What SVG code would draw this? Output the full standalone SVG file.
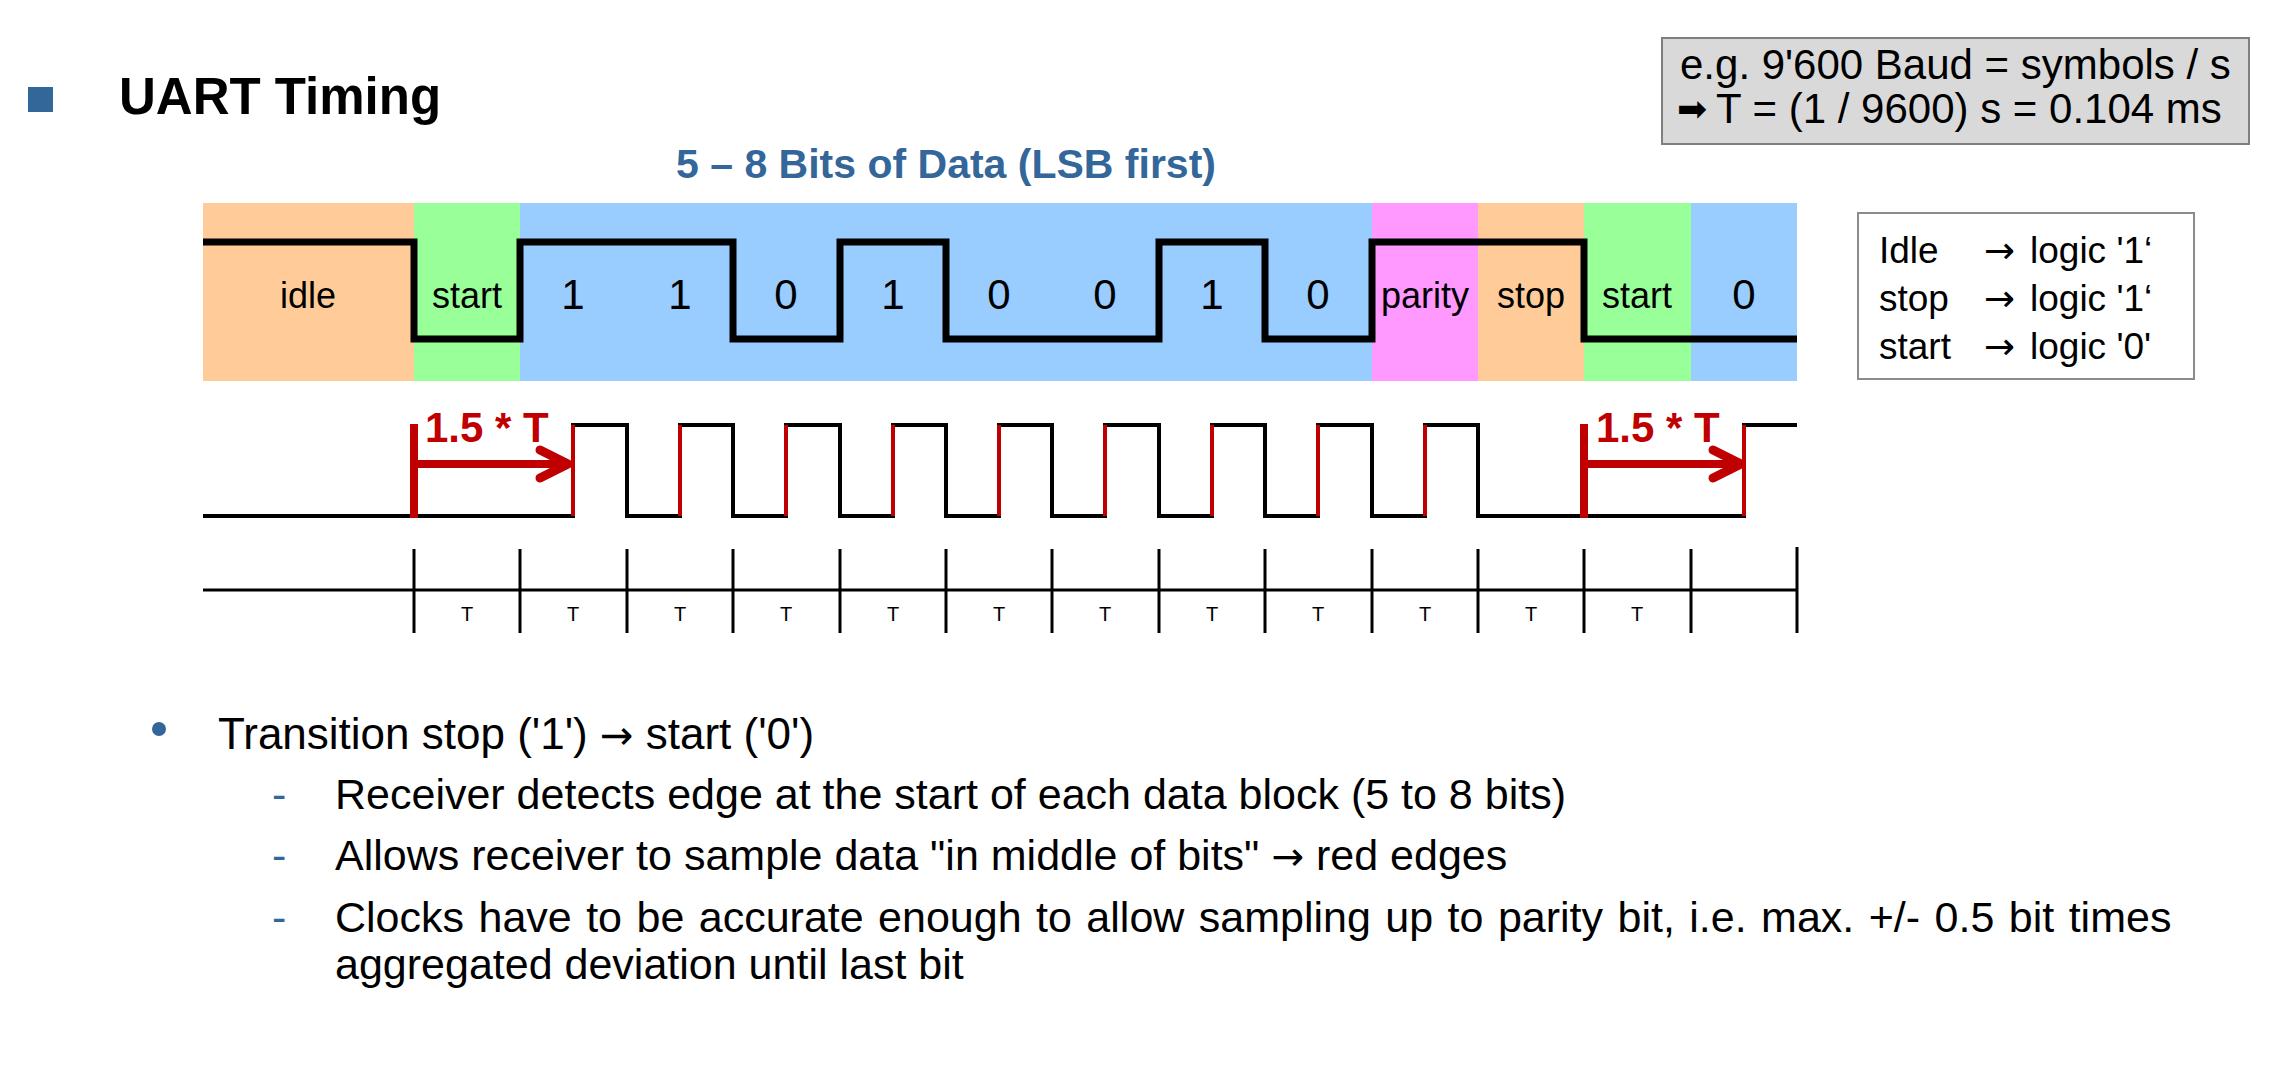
<svg xmlns="http://www.w3.org/2000/svg" width="2272" height="1068" viewBox="0 0 2272 1068">
<style>
text{font-family:"Liberation Sans",Arial,sans-serif;fill:#000}
.ar{font-family:"DejaVu Sans",sans-serif}
.lbl{font-size:36px;text-anchor:middle}
.dig{font-size:42px;text-anchor:middle}
.t{font-size:20px;text-anchor:middle}
.red{fill:#C00000;font-weight:bold;font-size:42px}
.blue{fill:#336699}
.sig{fill:none;stroke:#000;stroke-width:7;stroke-linejoin:miter}
.clk{fill:none;stroke:#000;stroke-width:4}
.rise{stroke:#C00000;stroke-width:4}
.tick{stroke:#000;stroke-width:3}
.rl{stroke:#C00000;stroke-width:8;fill:none}
.head{stroke:#C00000;stroke-width:9;fill:none;stroke-linecap:round;stroke-linejoin:round}
.body{font-size:43px}
.leg{font-size:37px}
</style>
<rect width="2272" height="1068" fill="#fff"/>
<g id="title">
<rect x="28" y="87" width="25" height="25" fill="#336699"/>
<text x="119" y="114" font-size="51" font-weight="bold">UART Timing</text>
</g>
<g id="databits-label">
<text x="946" y="178" font-size="41" font-weight="bold" text-anchor="middle" class="blue">5 – 8 Bits of Data (LSB first)</text>
</g>
<g id="baud-note">
<rect x="1662" y="38" width="587" height="106" fill="#D9D9D9" stroke="#7F7F7F" stroke-width="2"/>
<text x="1680" y="79" font-size="42">e.g. 9'600 Baud = symbols / s</text>
<text x="1677" y="121" class="ar" font-size="36">➡</text>
<text x="1716" y="123" font-size="42">T = (1 / 9600) s = 0.104 ms</text>
</g>
<g id="frame-bands">
<rect x="203" y="203" width="211" height="178" fill="#FFCC99"/>
<rect x="414" y="203" width="106" height="178" fill="#99FF99"/>
<rect x="520" y="203" width="852" height="178" fill="#99CCFF"/>
<rect x="1372" y="203" width="106" height="178" fill="#FF99FF"/>
<rect x="1478" y="203" width="106" height="178" fill="#FFCC99"/>
<rect x="1584" y="203" width="107" height="178" fill="#99FF99"/>
<rect x="1691" y="203" width="106" height="178" fill="#99CCFF"/>
</g>
<g id="frame-labels">
<text class="lbl" x="308" y="308">idle</text>
<text class="lbl" x="467" y="308">start</text>
<text class="dig" x="573" y="309">1</text>
<text class="dig" x="680" y="309">1</text>
<text class="dig" x="786" y="309">0</text>
<text class="dig" x="893" y="309">1</text>
<text class="dig" x="999" y="309">0</text>
<text class="dig" x="1105" y="309">0</text>
<text class="dig" x="1212" y="309">1</text>
<text class="dig" x="1318" y="309">0</text>
<text class="lbl" x="1425" y="308">parity</text>
<text class="lbl" x="1531" y="308">stop</text>
<text class="lbl" x="1637" y="308">start</text>
<text class="dig" x="1744" y="309">0</text>
</g>
<g id="connectors">
<path id="signal" class="sig" d="M203,242 H414 V339 H520 V242 H733 V339 H840 V242 H946 V339 H1159 V242 H1265 V339 H1372 V242 H1584 V339 H1797"/>
<path id="clock" class="clk" d="M203,516 H573 V425 H627 V516 H680 V425 H733 V516 H786 V425 H840 V516 H893 V425 H946 V516 H999 V425 H1052 V516 H1105 V425 H1159 V516 H1212 V425 H1265 V516 H1318 V425 H1372 V516 H1425 V425 H1478 V516 H1744 V425 H1797"/>
<g id="red-edges">
<line class="rise" x1="573" y1="516" x2="573" y2="425"/>
<line class="rise" x1="680" y1="516" x2="680" y2="425"/>
<line class="rise" x1="786" y1="516" x2="786" y2="425"/>
<line class="rise" x1="893" y1="516" x2="893" y2="425"/>
<line class="rise" x1="999" y1="516" x2="999" y2="425"/>
<line class="rise" x1="1105" y1="516" x2="1105" y2="425"/>
<line class="rise" x1="1212" y1="516" x2="1212" y2="425"/>
<line class="rise" x1="1318" y1="516" x2="1318" y2="425"/>
<line class="rise" x1="1425" y1="516" x2="1425" y2="425"/>
<line class="rise" x1="1744" y1="516" x2="1744" y2="425"/>
</g>
<g id="delay-arrow-1">
<line class="rl" x1="414" y1="424" x2="414" y2="518"/>
<line class="rl" x1="414" y1="464" x2="566" y2="464"/>
<polyline class="head" points="540,450 568,464 540,478"/>
</g>
<g id="delay-arrow-2">
<line class="rl" x1="1584" y1="424" x2="1584" y2="518"/>
<line class="rl" x1="1584" y1="464" x2="1738" y2="464"/>
<polyline class="head" points="1713,450 1741,464 1713,478"/>
</g>
</g>
<g id="delay-labels">
<text class="red" x="425" y="442">1.5 * T</text>
<text class="red" x="1596" y="442">1.5 * T</text>
</g>
<g id="timeline">
<line class="tick" x1="203" y1="590" x2="1797" y2="590"/>
<line class="tick" x1="414" y1="549" x2="414" y2="633"/>
<line class="tick" x1="520" y1="549" x2="520" y2="633"/>
<line class="tick" x1="627" y1="549" x2="627" y2="633"/>
<line class="tick" x1="733" y1="549" x2="733" y2="633"/>
<line class="tick" x1="840" y1="549" x2="840" y2="633"/>
<line class="tick" x1="946" y1="549" x2="946" y2="633"/>
<line class="tick" x1="1052" y1="549" x2="1052" y2="633"/>
<line class="tick" x1="1159" y1="549" x2="1159" y2="633"/>
<line class="tick" x1="1265" y1="549" x2="1265" y2="633"/>
<line class="tick" x1="1372" y1="549" x2="1372" y2="633"/>
<line class="tick" x1="1478" y1="549" x2="1478" y2="633"/>
<line class="tick" x1="1584" y1="549" x2="1584" y2="633"/>
<line class="tick" x1="1691" y1="549" x2="1691" y2="633"/>
<line class="tick" x1="1797" y1="547" x2="1797" y2="633"/>
<text class="t" x="467" y="621">T</text>
<text class="t" x="573" y="621">T</text>
<text class="t" x="680" y="621">T</text>
<text class="t" x="786" y="621">T</text>
<text class="t" x="893" y="621">T</text>
<text class="t" x="999" y="621">T</text>
<text class="t" x="1105" y="621">T</text>
<text class="t" x="1212" y="621">T</text>
<text class="t" x="1318" y="621">T</text>
<text class="t" x="1425" y="621">T</text>
<text class="t" x="1531" y="621">T</text>
<text class="t" x="1637" y="621">T</text>
</g>
<g id="legend">
<rect x="1858" y="213" width="336" height="166" fill="#fff" stroke="#8C8C8C" stroke-width="2"/>
<text class="leg" x="1879" y="263">Idle</text><text class="leg ar" x="1984" y="263" font-size="34">→</text><text class="leg" x="2030" y="263">logic '1‘</text>
<text class="leg" x="1879" y="311">stop</text><text class="leg ar" x="1984" y="311" font-size="34">→</text><text class="leg" x="2030" y="311">logic '1‘</text>
<text class="leg" x="1879" y="359">start</text><text class="leg ar" x="1984" y="359" font-size="34">→</text><text class="leg" x="2030" y="359">logic '0'</text>
</g>
<g id="notes">
<circle cx="159" cy="729" r="7" fill="#336699"/>
<text x="218" y="749" font-size="44">Transition stop ('1') <tspan class="ar" font-size="40">→</tspan> start ('0')</text>
<text x="272" y="809" class="body blue">-</text>
<text x="335" y="809" class="body">Receiver detects edge at the start of each data block (5 to 8 bits)</text>
<text x="272" y="870" class="body blue">-</text>
<text x="335" y="870" class="body">Allows receiver to sample data "in middle of bits" <tspan class="ar" font-size="39">→</tspan> red edges</text>
<text x="272" y="932" class="body blue">-</text>
<text x="335" y="932" class="body" word-spacing="2.5">Clocks have to be accurate enough to allow sampling up to parity bit, i.e. max. +/- 0.5 bit times</text>
<text x="335" y="979" class="body">aggregated deviation until last bit</text>
</g>
</svg>
